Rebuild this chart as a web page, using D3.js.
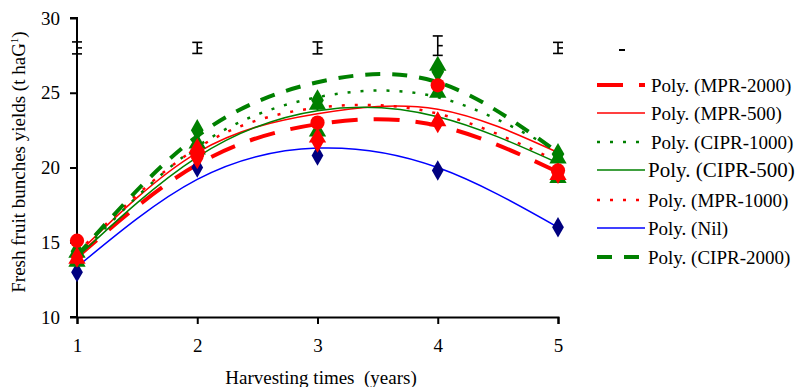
<!DOCTYPE html>
<html>
<head>
<meta charset="utf-8">
<script src="https://cdn.jsdelivr.net/npm/d3@7"></script>
<style>
  body { margin: 0; background: #fff; }
  svg { display: block; }
  svg text { font-family: "Liberation Serif", "Times New Roman", serif; fill: #000; }
</style>
</head>
<body>
<svg id="chart" width="797" height="387"></svg>
<script>
// harvest years
const years = [1, 2, 3, 4, 5];
const yTicks = [10, 15, 20, 25, 30];

// observed yields (markers)
const obsNil = [13.0, 20.0, 20.8, 19.8, 16.0];
const obsMPR2000 = [14.0, 20.6, 21.7, 23.0, 19.6];
const obsMPR500 = [15.1, 20.9, 23.0, 25.5, 19.8];
const obsMPR1000 = [13.9, 21.3, 22.0, 23.1, 19.5];
const obsCIPR500 = [13.7, 21.2, 22.4, 25.0, 19.3];
const obsCIPR1000 = [14.3, 21.6, 24.2, 26.8, 20.6];
const obsCIPR2000 = [14.4, 22.5, 24.5, 26.4, 20.9];

// polynomial trend values read at each year
const trendMPR2000 = [14.0, 20.2, 22.9, 22.8, 19.7];
const trendMPR500 = [14.2, 21.0, 23.6, 23.9, 21.0];
const trendCIPR1000 = [14.0, 21.4, 24.7, 24.7, 21.1];
const trendCIPR500 = [14.0, 20.7, 23.8, 23.4, 20.3];
const trendMPR1000 = [14.3, 21.3, 24.0, 23.6, 20.4];
const trendNil = [13.35, 19.2, 21.3, 20.0, 16.0];
const trendCIPR2000 = [14.1, 22.1, 25.7, 25.7, 21.0];

// LSD bars
const lsdMean = [28.0, 28.0, 28.0, 28.15, 28.0];
const lsdErr = [0.4, 0.37, 0.4, 0.65, 0.37];

const svg = d3.select("#chart");
const x = d3.scaleLinear().domain([1, 5]).range([77, 558]);
const y = d3.scaleLinear().domain([10, 30]).range([317, 18]);

const trends = [
  { name: "Poly. (MPR-2000)", values: trendMPR2000, color: "#ff0000", width: 4, dash: "26,16", size: 19 },
  { name: "Poly. (MPR-500)", values: trendMPR500, color: "#ff0000", width: 1.5, dash: null, size: 19 },
  { name: "Poly. (CIPR-1000)", values: trendCIPR1000, color: "#008000", width: 2.5, dash: "3,10", size: 19 },
  { name: "Poly. (CIPR-500)", values: trendCIPR500, color: "#008000", width: 1.5, dash: null, size: 21 },
  { name: "Poly. (MPR-1000)", values: trendMPR1000, color: "#ff0000", width: 2.5, dash: "3,10", size: 19 },
  { name: "Poly. (Nil)", values: trendNil, color: "#0000ff", width: 1.5, dash: null, size: 19 },
  { name: "Poly. (CIPR-2000)", values: trendCIPR2000, color: "#008000", width: 4, dash: "15,12", size: 19 }
];

const markers = [
  { values: obsNil, color: "#000080", shape: d3.symbolDiamond, size: 120 },
  { values: obsCIPR500, color: "#008000", shape: d3.symbolTriangle, size: 130 },
  { values: obsCIPR1000, color: "#008000", shape: d3.symbolTriangle, size: 130 },
  { values: obsCIPR2000, color: "#008000", shape: d3.symbolDiamond, size: 140 },
  { values: obsMPR1000, color: "#ff0000", shape: d3.symbolTriangle, size: 130 },
  { values: obsMPR2000, color: "#ff0000", shape: d3.symbolDiamond, size: 130 },
  { values: obsMPR500, color: "#ff0000", shape: d3.symbolCircle, size: 160 }
];

// axes
const yAxis = svg.append("g")
  .attr("transform", `translate(${x(1)},0)`)
  .call(d3.axisLeft(y).tickValues(yTicks).tickSize(7).tickPadding(10));
const xAxis = svg.append("g")
  .attr("transform", `translate(0,${y(10)})`)
  .call(d3.axisBottom(x).tickValues(years).tickSize(7).tickPadding(15).tickFormat(d3.format("d")));
[yAxis, xAxis].forEach(g => {
  g.attr("font-family", null);
  g.select(".domain").attr("stroke", "#000").attr("stroke-width", 2);
  g.selectAll(".tick line").attr("stroke", "#000").attr("stroke-width", 2);
  g.selectAll(".tick text").style("font-size", "19px");
});
yAxis.select(".domain").attr("d", `M-7,${y(30)}H0V${y(10)}H-7`);

// trend lines
const line = d3.line()
  .x((d, i) => x(years[i]))
  .y(d => y(d))
  .curve(d3.curveNatural);

trends.forEach(t => {
  svg.append("path")
    .attr("d", line(t.values))
    .attr("fill", "none")
    .attr("stroke", t.color)
    .attr("stroke-width", t.width)
    .attr("stroke-dasharray", t.dash);
});

// markers
markers.forEach(m => {
  svg.append("g").selectAll("path")
    .data(m.values)
    .join("path")
    .attr("transform", (d, i) => `translate(${x(years[i])},${y(d)})`)
    .attr("d", d3.symbol().type(m.shape).size(m.size))
    .attr("fill", m.color);
});

// LSD error bars
const bars = svg.append("g").attr("stroke", "#000").attr("stroke-width", 1.6);
years.forEach((yr, i) => {
  const cx = x(yr);
  bars.append("line").attr("x1", cx).attr("x2", cx).attr("y1", y(lsdMean[i] + lsdErr[i])).attr("y2", y(lsdMean[i] - lsdErr[i]));
  bars.append("line").attr("x1", cx - 5).attr("x2", cx + 5).attr("y1", y(lsdMean[i] + lsdErr[i])).attr("y2", y(lsdMean[i] + lsdErr[i]));
  bars.append("line").attr("x1", cx - 5).attr("x2", cx + 5).attr("y1", y(lsdMean[i] - lsdErr[i])).attr("y2", y(lsdMean[i] - lsdErr[i]));
  bars.append("line").attr("x1", cx).attr("x2", cx + 5).attr("y1", y(lsdMean[i])).attr("y2", y(lsdMean[i]));
});
svg.append("rect").attr("x", 619).attr("y", 49).attr("width", 6).attr("height", 2).attr("fill", "#000");

// legend
const legend = svg.append("g");
const legendY = [85, 113, 142, 170, 200, 228, 257];
trends.forEach((t, i) => {
  const row = legend.append("g").attr("transform", `translate(0,${legendY[i]})`);
  row.append("line")
    .attr("x1", 597).attr("x2", 645)
    .attr("stroke", t.color)
    .attr("stroke-width", t.width)
    .attr("stroke-dasharray", t.dash);
  row.append("text")
    .attr("x", i < 3 ? 651 : 648)
    .attr("dy", "0.35em")
    .style("font-size", t.size + "px")
    .text(t.name);
});

// axis titles
svg.append("text")
  .attr("transform", `translate(25,162) rotate(-90)`)
  .attr("text-anchor", "middle")
  .style("font-size", "19px")
  .html('Fresh fruit bunches yields (t haG<tspan dy="-7" style="font-size:11px">1</tspan><tspan dy="7">)</tspan>');

svg.append("text")
  .attr("x", 321)
  .attr("y", 384)
  .attr("text-anchor", "middle")
  .style("font-size", "19px")
  .style("white-space", "pre")
  .text("Harvesting times  (years)");
</script>
</body>
</html>
